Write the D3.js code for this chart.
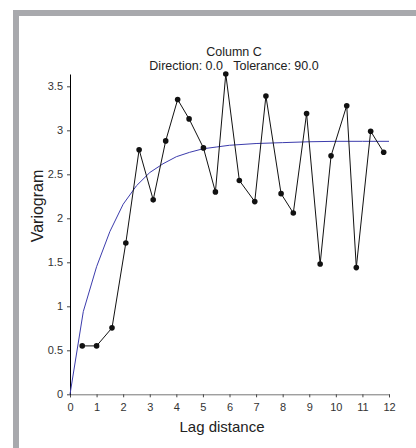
<!DOCTYPE html>
<html>
<head>
<meta charset="utf-8">
<script src="https://cdn.jsdelivr.net/npm/d3@7"></script>
<style>
	body { margin: 0; background: #fff; }
	text { font-family: "Liberation Sans", Arial, sans-serif; }
</style>
</head>
<body>
<script>
const width = 416,
	  height = 448;

// experimental variogram (lag, value)
var lags = [0.46, 1.0, 1.58, 2.1, 2.6, 3.13, 3.6, 4.05, 4.48, 5.02, 5.47, 5.86, 6.37, 6.95, 7.37, 7.94, 8.4, 8.9, 9.41, 9.82, 10.41, 10.77, 11.31, 11.8];
var gamma = [0.55, 0.55, 0.755, 1.72, 2.78, 2.21, 2.88, 3.35, 3.13, 2.80, 2.30, 3.64, 2.43, 2.19, 3.39, 2.28, 2.06, 3.19, 1.48, 2.71, 3.28, 1.44, 2.99, 2.75];

// model curve
var modelLags = [0, 0.5, 1.0, 1.5, 2.0, 2.5, 3.0, 3.5, 4.0, 4.5, 5.0, 5.5, 6.0, 7.0, 8.0, 9.0, 10.0, 11.0, 12.0];
var modelVals = [0, 0.94, 1.45, 1.85, 2.16, 2.37, 2.52, 2.62, 2.70, 2.75, 2.79, 2.81, 2.83, 2.85, 2.86, 2.87, 2.875, 2.875, 2.875];

var xTicks = [0, 1, 2, 3, 4, 5, 6, 7, 8, 9, 10, 11, 12];
var yTicks = [0, 0.5, 1, 1.5, 2, 2.5, 3, 3.5];

var svg = d3.select("body").append("svg")
	.attr("width", width)
	.attr("height", height)

// grey frame on top and left
svg.append("rect")
	.attr("x", 13).attr("y", 10)
	.attr("width", width - 13).attr("height", 6)
	.attr("fill", "#a8a9ad")
svg.append("rect")
	.attr("x", 13).attr("y", 10)
	.attr("width", 6).attr("height", height - 10)
	.attr("fill", "#a8a9ad")

var x = d3.scaleLinear().domain([0, 12]).range([70, 389])
var y = d3.scaleLinear().domain([0, 3.64]).range([394.3, 74])

var xAxis = svg.append("g")
	.attr("transform", "translate(0," + y(0) + ")")
	.call(d3.axisBottom(x).tickValues(xTicks).tickSize(3).tickPadding(6).tickSizeOuter(3).tickFormat(d3.format("d")))
xAxis.select(".domain").attr("stroke", "#777")
xAxis.selectAll(".tick line").attr("stroke", "#444")
xAxis.selectAll("text")
	.attr("fill", "#333")
	.style("font-size", "11px")
	.style("font-family", "Liberation Sans")

var yAxis = svg.append("g")
	.attr("transform", "translate(" + x(0) + ",0)")
	.call(d3.axisLeft(y).tickValues(yTicks).tickSize(3).tickPadding(4).tickSizeOuter(0).tickFormat(d => d))
yAxis.select(".domain").attr("stroke", "#000")
yAxis.selectAll(".tick line").attr("stroke", "#444")
yAxis.selectAll("text")
	.attr("fill", "#333")
	.style("font-size", "11px")
	.style("font-family", "Liberation Sans")

var modelLine = d3.line()
	.x(function (d, i) { return x(modelLags[i]) })
	.y(function (d) { return y(d) })

svg.append("path")
	.datum(modelVals)
	.attr("d", modelLine)
	.attr("fill", "none")
	.attr("stroke", "#3c3cac")
	.attr("stroke-width", 1)

var expLine = d3.line()
	.x(function (d, i) { return x(lags[i]) })
	.y(function (d) { return y(d) })

svg.append("path")
	.datum(gamma)
	.attr("d", expLine)
	.attr("fill", "none")
	.attr("stroke", "#111")
	.attr("stroke-width", 1)

svg.selectAll(".pt")
	.data(gamma)
	.enter()
	.append("circle")
	.attr("class", "pt")
	.attr("cx", (d, i) => x(lags[i]))
	.attr("cy", d => y(d))
	.attr("r", 2.8)
	.attr("fill", "#111")

svg.append("text")
	.attr("x", 234).attr("y", 56)
	.attr("text-anchor", "middle")
	.style("font-size", "12.5px")
	.attr("fill", "#222")
	.text("Column C")

svg.append("text")
	.attr("x", 234).attr("y", 70)
	.attr("text-anchor", "middle")
	.attr("xml:space", "preserve")
	.style("font-size", "12.5px")
	.style("white-space", "pre")
	.attr("fill", "#222")
	.text("Direction: 0.0   Tolerance: 90.0")

svg.append("text")
	.attr("x", 222).attr("y", 432)
	.attr("text-anchor", "middle")
	.style("font-size", "15px")
	.attr("fill", "#222")
	.text("Lag distance")

svg.append("text")
	.attr("transform", "translate(43,206) rotate(-90)")
	.attr("text-anchor", "middle")
	.style("font-size", "16px")
	.attr("fill", "#222")
	.text("Variogram")
</script>
</body>
</html>
